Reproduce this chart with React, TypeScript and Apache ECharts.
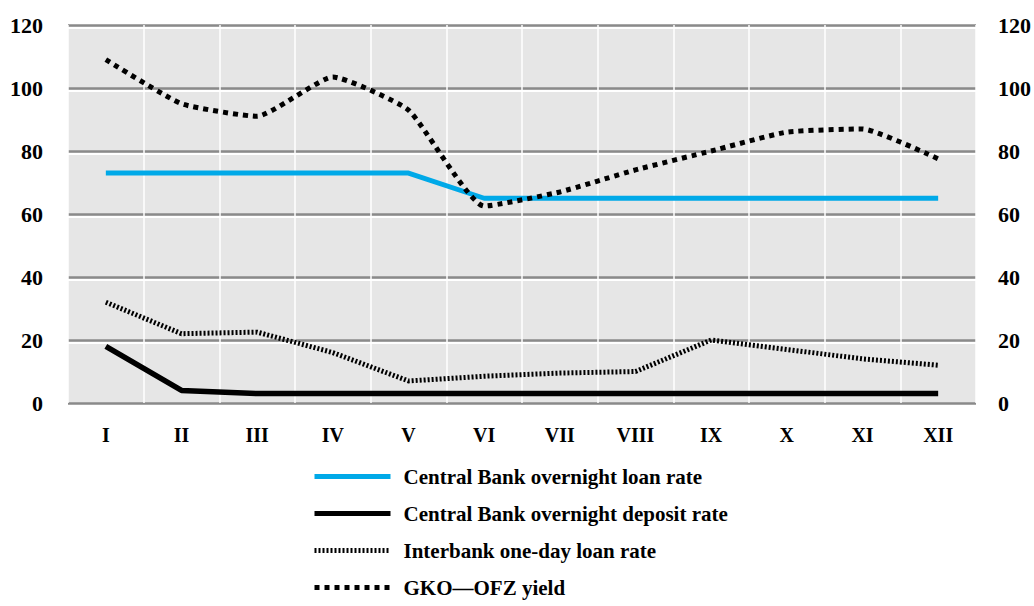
import React, { useEffect, useRef } from "react";
import * as echarts from "echarts";

const months = ["I", "II", "III", "IV", "V", "VI", "VII", "VIII", "IX", "X", "XI", "XII"];
const loanRate = [73, 73, 73, 73, 73, 65, 65, 65, 65, 65, 65, 65];
const depositRate = [18, 4, 3, 3, 3, 3, 3, 3, 3, 3, 3, 3];
const interbankRate = [32, 22, 22.5, 16, 7, 8.5, 9.5, 10, 20, 17, 14, 12];
const gkoYield = [109, 95, 91, 103.5, 93, 62.5, 67, 74, 80, 86, 87, 77.5];
const seriesNames = [
  "Central Bank overnight loan rate",
  "Central Bank overnight deposit rate",
  "Interbank one-day loan rate",
  "GKO\u2014OFZ yield",
];

const FONT = "Liberation Serif, DejaVu Serif, serif";

export default function App() {
  const ref = useRef<HTMLDivElement>(null);
  useEffect(() => {
    if (!ref.current) return;
    const chart = echarts.init(ref.current, undefined, { renderer: "svg" });
    const labelStyle = { color: "#000", fontFamily: FONT, fontWeight: "bold" as const };
    chart.setOption({
      animation: false,
      backgroundColor: "#fff",
      grid: [
        { left: 68, right: 58, top: 25, bottom: 203, show: true, backgroundColor: "#e6e6e6", borderWidth: 0 },
        { left: 68, right: 58, top: 27.5, bottom: 200.5, show: false },
      ],
      legend: {
        orient: "vertical",
        left: 312,
        top: 466,
        height: 200,
        padding: 0,
        itemWidth: 76,
        itemHeight: 14,
        itemGap: 16,
        itemStyle: { opacity: 0 },
        lineStyle: { width: 5 },
        textStyle: { ...labelStyle, fontSize: 21, padding: [0, 0, 0, 8] },
        data: seriesNames,
      },
      xAxis: [
        {
          type: "category",
          gridIndex: 0,
          data: months,
          boundaryGap: true,
          axisLine: { show: false },
          axisTick: { show: false },
          axisLabel: { ...labelStyle, fontSize: 20, margin: 22 },
          splitLine: { show: true, lineStyle: { color: "#ffffff", width: 1.5 } },
        },
        { type: "category", gridIndex: 1, data: months, show: false },
      ],
      yAxis: [
        {
          type: "value",
          gridIndex: 0,
          min: 0,
          max: 120,
          interval: 20,
          position: "left",
          axisLine: { show: false },
          axisTick: { show: false },
          axisLabel: { ...labelStyle, fontSize: 22, margin: 25 },
          splitLine: { show: true, lineStyle: { color: "#8a8a8a", width: 2.5 } },
        },
        {
          type: "value",
          gridIndex: 0,
          min: 0,
          max: 120,
          interval: 20,
          position: "right",
          axisLine: { show: false },
          axisTick: { show: false },
          axisLabel: { ...labelStyle, fontSize: 22, margin: 22 },
          splitLine: { show: false },
        },
        {
          type: "value",
          gridIndex: 1,
          min: 0,
          max: 120,
          interval: 20,
          axisLine: { show: false },
          axisTick: { show: false },
          axisLabel: { show: false },
          splitLine: { show: true, lineStyle: { color: "#ffffff", width: 2 } },
        },
      ],
      series: [
        {
          name: seriesNames[0],
          type: "line",
          data: loanRate,
          symbol: "none",
          lineStyle: { color: "#00a9e8", width: 5 },
          itemStyle: { color: "#00a9e8" },
        },
        {
          name: seriesNames[1],
          type: "line",
          data: depositRate,
          symbol: "none",
          lineStyle: { color: "#000", width: 5.5 },
          itemStyle: { color: "#000" },
        },
        {
          name: seriesNames[2],
          type: "line",
          data: interbankRate,
          symbol: "none",
          lineStyle: { color: "#000", width: 5, type: [2, 2] },
          itemStyle: { color: "#000" },
        },
        {
          name: seriesNames[3],
          type: "line",
          data: gkoYield,
          symbol: "none",
          smooth: 0.15,
          lineStyle: { color: "#000", width: 5, type: [5, 5] },
          itemStyle: { color: "#000" },
        },
      ],
    });
    return () => chart.dispose();
  }, []);
  return (
    <div
      ref={ref}
      style={{ position: "fixed", left: 0, top: 0, width: 1034, height: 606, background: "#fff" }}
    />
  );
}
